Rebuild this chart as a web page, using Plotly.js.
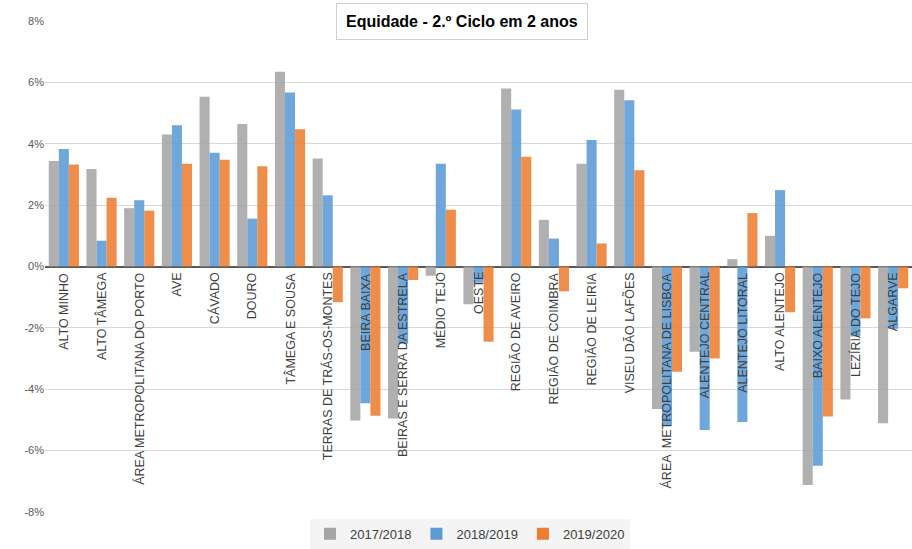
<!DOCTYPE html>
<html>
<head>
<meta charset="utf-8">
<script src="https://cdn.plot.ly/plotly-3.0.1.min.js"></script>
<style>html,body{margin:0;padding:0;background:#fff;}#chart{width:912px;height:549px;}</style>
</head>
<body>
<div id="chart"></div>
<script>
const categories = ["ALTO MINHO","ALTO TÂMEGA","ÁREA METROPOLITANA DO PORTO","AVE","CÁVADO","DOURO","TÂMEGA E SOUSA","TERRAS DE TRÁS-OS-MONTES","BEIRA BAIXA","BEIRAS E SERRA DA ESTRELA","MÉDIO TEJO","OESTE","REGIÃO DE AVEIRO","REGIÃO DE COIMBRA","REGIÃO DE LEIRIA","VISEU DÃO LAFÕES","ÁREA  METROPOLITANA DE LISBOA","ALENTEJO CENTRAL","ALENTEJO LITORAL","ALTO ALENTEJO","BAIXO ALENTEJO","LEZÍRIA DO TEJO","ALGARVE"];
const s2017 = [3.44,3.18,1.90,4.30,5.53,4.64,6.35,3.52,-5.02,-4.95,-0.30,-1.23,5.80,1.52,3.35,5.76,-4.64,-2.78,0.24,1.00,-7.12,-4.33,-5.11];
const s2018 = [3.83,0.84,2.16,4.60,3.71,1.56,5.67,2.32,-4.46,-2.52,3.35,-0.53,5.12,0.91,4.12,5.42,-5.20,-5.33,-5.07,2.49,-6.49,-2.28,-2.03];
const s2019 = [3.32,2.24,1.82,3.35,3.48,3.27,4.47,-1.16,-4.86,-0.44,1.85,-2.45,3.58,-0.81,0.75,3.14,-3.43,-3.00,1.74,-1.49,-4.89,-1.69,-0.71];
const seriesNames = ["2017/2018","2018/2019","2019/2020"];
const tickVals = [-8,-6,-4,-2,0,2,4,6,8];
const tickText = ["-8%","-6%","-4%","-2%","0%","2%","4%","6%","8%"];
const titleText = "Equidade - 2.º Ciclo em 2 anos";

const colors = ["#a5a5a5","#5b9bd5","#ed7d31"];
const idx = categories.map((c,i)=>i);
const data = [s2017,s2018,s2019].map((s,k)=>({
  type:"bar", x:idx, y:s, name:seriesNames[k],
  marker:{color:colors[k], opacity:0.88, line:{width:0}},
  hoverinfo:"y"
}));

const L=45,R=0,T=21,B=33,W=912,H=549;
const pw=W-L-R, ph=H-T-B;

const annotations = categories.map((c,i)=>({
  x:i, y:0, xref:"x", yref:"y", text:c, showarrow:false,
  textangle:-90, yanchor:"top", xanchor:"center", yshift:-4,
  font:{family:"Liberation Sans Narrow, Arial Narrow, Liberation Sans, sans-serif", size:12.5, color:"#404040"}
}));
annotations.push({
  x:(462-L)/pw, xref:"paper", y:(H-B-21)/ph, yref:"paper", text:"<b>"+titleText+"</b>", showarrow:false,
  xanchor:"center", yanchor:"middle", bordercolor:"#d0d0d0", borderwidth:1, borderpad:9, bgcolor:"#ffffff",
  font:{family:"Liberation Sans Narrow, Arial Narrow, sans-serif", size:16, color:"#000"}
});

const layout = {
  width:W, height:H,
  margin:{l:L,r:R,t:T,b:B,pad:0},
  paper_bgcolor:"#fff", plot_bgcolor:"#fff",
  barmode:"group", bargap:0.2, bargroupgap:0,
  showlegend:true,
  legend:{orientation:"h", x:(470-L)/pw, xanchor:"center", y:-22/ph, yanchor:"middle",
    bgcolor:"#f4f4f4", font:{family:"Liberation Sans, Arial, sans-serif", size:13, color:"#404040"},
    itemwidth:30, traceorder:"normal"},
  xaxis:{range:[-0.5,categories.length-0.5], showticklabels:false, showgrid:false, zeroline:false, showline:false, ticks:""},
  yaxis:{range:[-8,8], tickvals:tickVals, ticktext:tickText, showgrid:true, gridcolor:"#d9d9d9", gridwidth:1,
    zeroline:true, zerolinecolor:"#595959", zerolinewidth:2, showline:false, ticks:"",
    tickfont:{family:"Liberation Sans Narrow, Arial Narrow, sans-serif", size:11, color:"#595959"}},
  annotations:annotations
};
Plotly.newPlot("chart", data, layout, {displayModeBar:false, staticPlot:true});
</script>
</body>
</html>
